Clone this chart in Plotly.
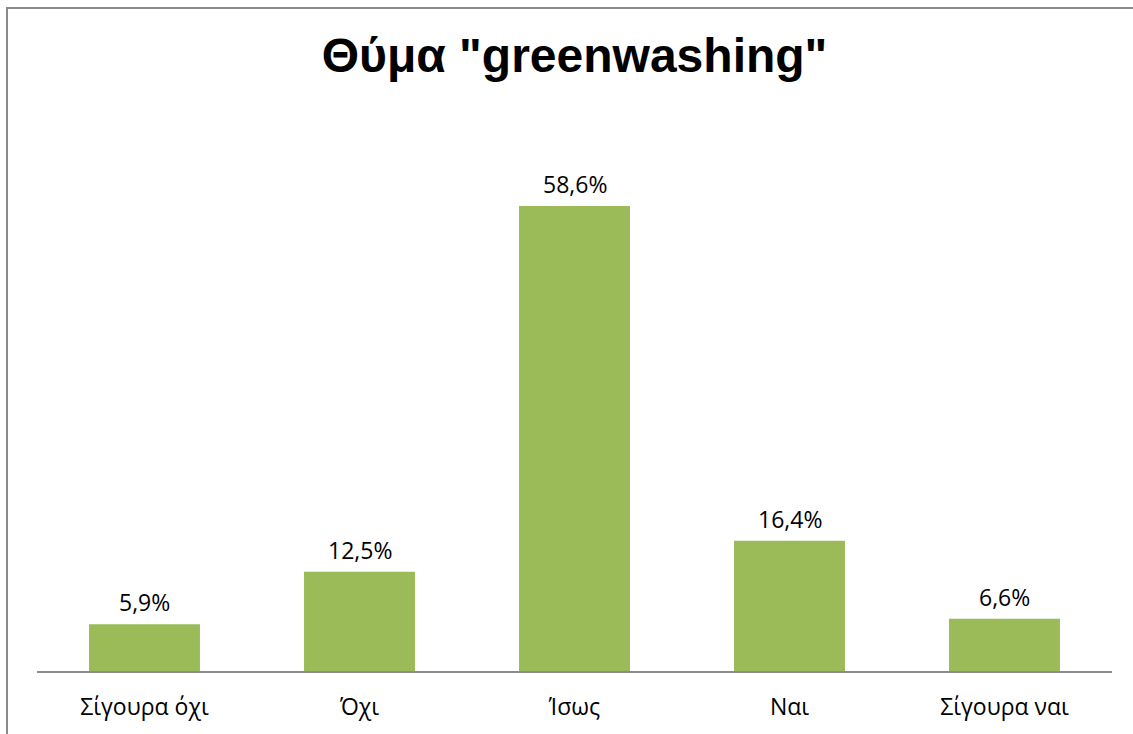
import plotly.graph_objects as go

categories = ["Σίγουρα όχι", "Όχι", "Ίσως", "Ναι", "Σίγουρα ναι"]
values = [5.9, 12.5, 58.6, 16.4, 6.6]
labels = ["5,9%", "12,5%", "58,6%", "16,4%", "6,6%"]

W, H = 1133, 734
ml, mr, mt, mb = 37, 21, 130, 63

fig = go.Figure(go.Bar(
    x=categories, y=values,
    marker=dict(color="#9BBB59", line=dict(width=0)),
    width=0.516,
))

for c, v, t in zip(categories, values, labels):
    fig.add_annotation(x=c, y=v, text=t, showarrow=False, yanchor="bottom",
                       yshift=4, font=dict(family="Open Sans", size=23, color="#000000"))

fig.update_layout(
    width=W, height=H,
    margin=dict(l=ml, r=mr, t=mt, b=mb),
    paper_bgcolor="white", plot_bgcolor="white",
    showlegend=False,
    title=dict(text='Θύμα "greenwashing"', x=(ml + (W - mr)) / 2 / W, xanchor="center",
               y=1 - 55 / H, yanchor="middle",
               font=dict(family="Liberation Sans", size=48, color="#000000", weight="bold")),
    xaxis=dict(showline=True, linecolor="#8c8c8c", linewidth=2, ticks="",
               tickfont=dict(family="Open Sans", size=23, color="#000000"),
               ticklabelstandoff=14,
               showgrid=False, fixedrange=True),
    yaxis=dict(range=[0, (H - mb - mt) / 7.935], visible=False, showgrid=False, fixedrange=True),
    bargap=0.484,
    shapes=[dict(type="rect", xref="paper", yref="paper",
                 x0=-(ml - 7) / (W - ml - mr), x1=(W + 20 - ml) / (W - ml - mr),
                 y0=-(mb + 20) / (H - mt - mb), y1=1 + (mt - 8) / (H - mt - mb),
                 line=dict(color="#8a8a8a", width=2), layer="below")],
)

fig.write_html("out.html")
